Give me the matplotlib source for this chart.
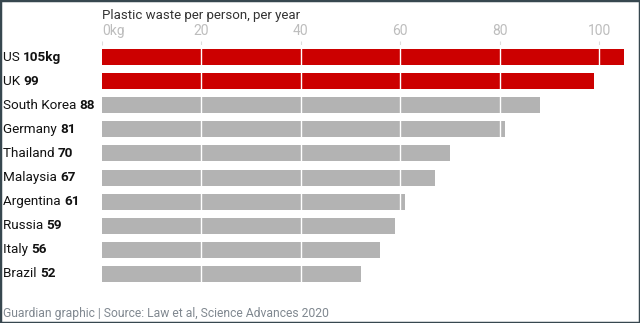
import matplotlib.pyplot as plt
from matplotlib.patches import Rectangle

countries = ["US", "UK", "South Korea", "Germany", "Thailand", "Malaysia",
             "Argentina", "Russia", "Italy", "Brazil"]
waste_kg = [105, 99, 88, 81, 70, 67, 61, 59, 56, 52]
value_labels = ["105kg", "99", "88", "81", "70", "67", "61", "59", "56", "52"]
highlight = ["US", "UK"]
tick_values = [0, 20, 40, 60, 80, 100]
tick_labels = ["0kg", "20", "40", "60", "80", "100"]

RED = "#cc0000"
GREY = "#b3b3b3"
INK = "#121212"
LIGHT = "#bdbdbd"
FONT = "Roboto"

plt.rcParams["font.family"] = [FONT, "DejaVu Sans"]

W, H = 640, 323
fig = plt.figure(figsize=(W / 100, H / 100), dpi=100)
ax = fig.add_axes([102 / W, (H - 286) / H, 532 / W, 241 / H])

colors = [RED if c in highlight else GREY for c in countries]
ypos = list(range(len(countries)))
ax.barh(ypos, waste_kg, height=0.667, color=colors, zorder=1)
for v in tick_values[1:]:
    ax.axvline(v, color="white", lw=1, zorder=2)

ax.set_xlim(0, 107)
ax.set_ylim(len(countries) - 0.5, -0.5)
ax.set_yticks([])
ax.xaxis.tick_top()
ax.set_xticks(tick_values)
ax.set_xticklabels(tick_labels)
ax.tick_params(axis="x", length=3, width=0.8, color="#dddddd", pad=2,
               labelcolor=LIGHT, labelsize=10)
ax.get_xticklabels()[0].set_horizontalalignment("left")
for s in ax.spines.values():
    s.set_visible(False)

# country names with bold values on the left
for y, name, val in zip(ypos, countries, value_labels):
    t = ax.annotate(name + " ", xy=(3 / W, y),
                    xycoords=("figure fraction", "data"),
                    va="center", ha="left", fontsize=9.7, color=INK)
    ax.annotate(val, xy=(1, 0), xycoords=t, va="bottom", ha="left",
                fontsize=9.7, fontweight="bold", color=INK)

fig.text(102 / W, 1 - 16 / H, "Plastic waste per person, per year",
         fontsize=9.5, color="#333333", va="center", ha="left")
fig.text(3 / W, 1 - 313 / H,
         "Guardian graphic | Source: Law et al, Science Advances 2020",
         fontsize=8.7, color="#808890", va="center", ha="left")

fig.patches.append(Rectangle((0, 0), 1, 1, transform=fig.transFigure,
                             fill=False, edgecolor="#37474f", lw=2.5))

fig.savefig("out.png", dpi=100)
